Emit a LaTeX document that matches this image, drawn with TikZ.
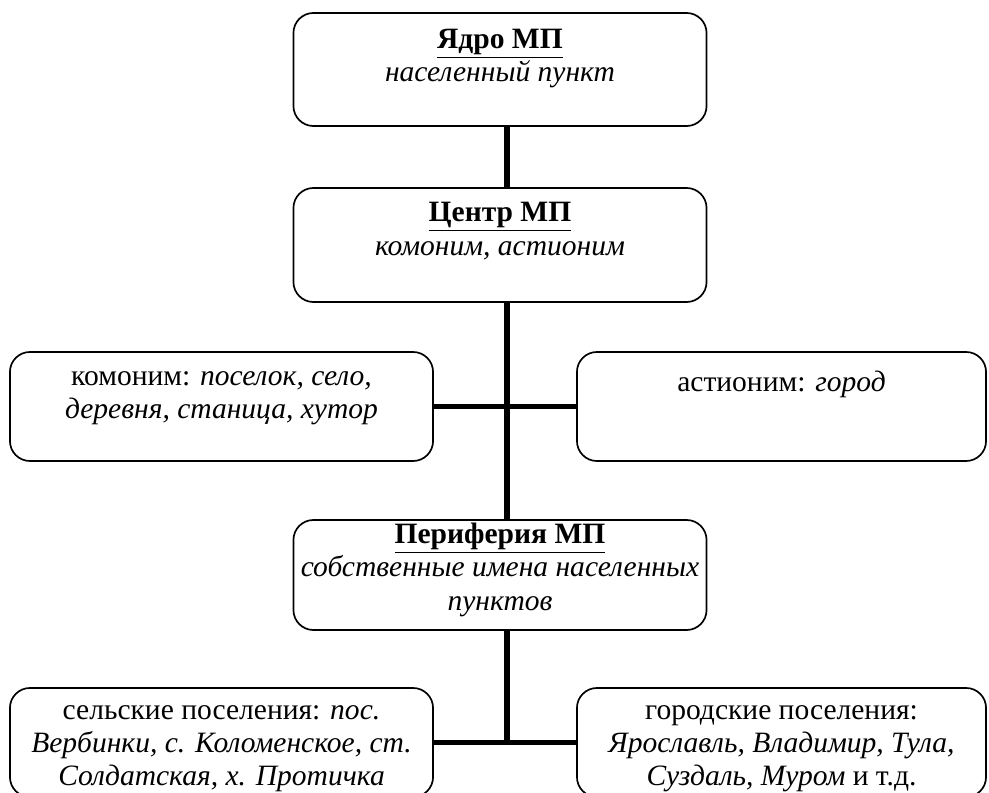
\documentclass[tikz,border=0pt]{standalone}
\usepackage{fontspec}
\setmainfont{Liberation Serif}
\usetikzlibrary{positioning}

\tikzset{
  box/.style={draw, line width=1.2pt, rounded corners=0.5cm},
  boxtext/.style={inner sep=0pt, align=center, font=\fontsize{21}{23.5}\selectfont},
  link/.style={line width=4pt},
}

\begin{document}
\begin{tikzpicture}[x=0.025cm, y=-0.025cm]
  \useasboundingbox (0,0) rectangle (989,793);
  \clip (0,0) rectangle (989,793);

  % boxes of the scheme
  \node[box, minimum width=10.325cm, minimum height=2.825cm] (yadro)  at (500, 69.5)  {};
  \node[box, minimum width=10.325cm, minimum height=2.85cm]  (centr)  at (500, 245)   {};
  \node[box, minimum width=10.575cm, minimum height=2.725cm] (komon)  at (221.5, 406.5) {};
  \node[box, minimum width=10.225cm, minimum height=2.725cm] (astion) at (781.5, 406.5) {};
  \node[box, minimum width=10.325cm, minimum height=2.75cm]  (periph) at (500, 575)   {};
  \node[box, minimum width=10.575cm, minimum height=2.725cm] (selsk)  at (221.5, 742.5) {};
  \node[box, minimum width=10.225cm, minimum height=2.725cm] (gorod)  at (781.5, 742.5) {};

  % texts
  \node[boxtext, below=0.42cm of yadro.north] (yadroT)
    {\textbf{\underline{Ядро МП}}\\\textit{населенный пункт}};
  \node[boxtext, below=0.38cm of centr.north] (centrT)
    {\textbf{\underline{Центр МП}}\\\textit{комоним, астионим}};
  \node[boxtext, below=0.5cm of komon.north] (komonT)
    {комоним: \textit{поселок, село,}\\\textit{деревня, станица, хутор}};
  \node[boxtext, below=0.5cm of astion.north] (astionT)
    {астионим: \textit{город}};
  \node[boxtext, below=0.1cm of periph.north] (periphT)
    {\textbf{\underline{Периферия МП}}\\\textit{собственные имена населенных}\\\textit{пунктов}};
  \node[boxtext, below=0.45cm of selsk.north] (selskT)
    {сельские поселения: \textit{пос.}\\\textit{Вербинки, с. Коломенское, ст.}\\\textit{Солдатская, х. Протичка}};
  \node[boxtext, below=0.45cm of gorod.north] (gorodT)
    {городские поселения:\\\textit{Ярославль, Владимир, Тула,}\\\textit{Суздаль, Муром} и т.д.};

  % connectors
  \coordinate (spine) at (507, 0);
  \draw[link] (yadro.south -| spine) -- (centr.north -| spine);
  \draw[link] (centr.south -| spine) -- (periph.north -| spine);
  \draw[link] (komon.east) -- (astion.west);
  \draw[link] (periph.south -| spine) -- (selsk.east -| spine);
  \draw[link] (selsk.east) -- (gorod.west);
\end{tikzpicture}
\end{document}
